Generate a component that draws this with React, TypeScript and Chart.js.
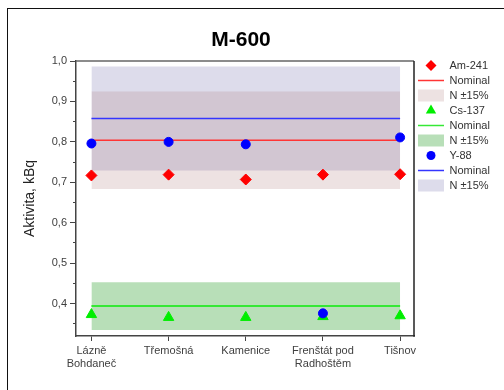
import React, { useEffect, useRef } from 'react';
import { Chart, registerables } from 'chart.js';

Chart.register(...registerables);

// ---- data ----
const categories: string[][] = [
  ['Lázně', 'Bohdaneč'],
  ['Třemošná'],
  ['Kamenice'],
  ['Frenštát pod', 'Radhoštěm'],
  ['Tišnov'],
];
const categoryPositions = [0, 1, 2, 3, 4];

const am241Values = [0.717, 0.719, 0.707, 0.719, 0.72];
const cs137Values = [0.373, 0.366, 0.366, 0.368, 0.37];
const y88Values = [0.796, 0.8, 0.794, 0.376, 0.811];

const am241Nominal = 0.804;
const cs137Nominal = 0.394;
const y88Nominal = 0.858;
const bandFraction = 0.15;

const yMajorTicks = [0.4, 0.5, 0.6, 0.7, 0.8, 0.9, 1.0];
const yTickLabels = ['0,4', '0,5', '0,6', '0,7', '0,8', '0,9', '1,0'];
const yMinorTicks = [0.35, 0.45, 0.55, 0.65, 0.75, 0.85, 0.95];

const legendLabels = [
  'Am-241', 'Nominal', 'N ±15%',
  'Cs-137', 'Nominal', 'N ±15%',
  'Y-88', 'Nominal', 'N ±15%',
];

const chartTitle = 'M-600';
const yAxisTitle = 'Aktivita, kBq';

// ---- styles ----
const FONT = 'Arial, "Liberation Sans", sans-serif';
const RED = '#ff0000';
const GREEN = '#00ee00';
const BLUE = '#0000ff';
const RED_LINE = '#ff3535';
const GREEN_LINE = '#35e835';
const BLUE_LINE = '#3535ff';
const AM_BAND = 'rgba(175,125,125,0.22)';
const CS_BAND = 'rgba(20,150,20,0.3)';
const Y_BAND = 'rgba(120,115,175,0.25)';

const points = (vals: number[]) => categoryPositions.map((x, i) => ({ x, y: vals[i] }));
const hLine = (v: number) => [
  { x: categoryPositions[0], y: v },
  { x: categoryPositions[categoryPositions.length - 1], y: v },
];
const near = (a: number, b: number) => Math.abs(a - b) < 1e-6;

function makeIcon(draw: (c: CanvasRenderingContext2D) => void): HTMLCanvasElement {
  const cv = document.createElement('canvas');
  cv.width = 26;
  cv.height = 13;
  const c = cv.getContext('2d')!;
  draw(c);
  return cv;
}

function makeIcons(): HTMLCanvasElement[] {
  const cx = 13, cy = 6.5;
  const diamond = makeIcon((c) => {
    const r = 5.5;
    c.fillStyle = RED;
    c.beginPath();
    c.moveTo(cx, cy - r); c.lineTo(cx + r, cy); c.lineTo(cx, cy + r); c.lineTo(cx - r, cy);
    c.closePath(); c.fill();
  });
  const triangle = makeIcon((c) => {
    const r = 6;
    c.fillStyle = GREEN;
    c.beginPath();
    c.moveTo(cx, cy - r);
    c.lineTo(cx + r * Math.sin(Math.PI / 3), cy + r / 2);
    c.lineTo(cx - r * Math.sin(Math.PI / 3), cy + r / 2);
    c.closePath(); c.fill();
  });
  const circle = makeIcon((c) => {
    c.fillStyle = BLUE;
    c.beginPath(); c.arc(cx, cy, 4.5, 0, Math.PI * 2); c.fill();
  });
  const line = (color: string, w: number) => makeIcon((c) => {
    c.strokeStyle = color; c.lineWidth = w;
    c.beginPath(); c.moveTo(0, cy); c.lineTo(26, cy); c.stroke();
  });
  const box = (color: string) => makeIcon((c) => {
    c.fillStyle = color; c.fillRect(0, 0.5, 26, 12);
  });
  return [
    diamond, line(RED_LINE, 1.5), box(AM_BAND),
    triangle, line(GREEN_LINE, 1.5), box(CS_BAND),
    circle, line(BLUE_LINE, 1.5), box(Y_BAND),
  ];
}

const framePlugin = {
  id: 'plotFrame',
  afterDraw(chart: any) {
    const { ctx, chartArea } = chart;
    const { left, top, right, bottom } = chartArea;
    ctx.save();
    ctx.lineWidth = 1.5;
    ctx.strokeStyle = '#666';
    ctx.beginPath(); ctx.moveTo(left, top); ctx.lineTo(right, top); ctx.stroke();
    ctx.strokeStyle = '#222';
    ctx.beginPath(); ctx.moveTo(right, top); ctx.lineTo(right, bottom + 0.75); ctx.stroke();
    ctx.restore();
  },
};

export default function App() {
  const ref = useRef<HTMLCanvasElement>(null);

  useEffect(() => {
    const canvas = ref.current;
    if (!canvas) return;
    const icons = makeIcons();

    const markerDs = (label: string, vals: number[], color: string, style: string, radius: number) => ({
      label,
      data: points(vals),
      showLine: false,
      pointStyle: style,
      pointRadius: radius,
      pointHoverRadius: radius,
      pointBackgroundColor: color,
      pointBorderColor: color,
      pointBorderWidth: 1,
      backgroundColor: color,
      borderColor: color,
      fill: false,
    });
    const lineDs = (label: string, v: number, color: string, width: number) => ({
      label,
      data: hLine(v),
      showLine: true,
      borderColor: color,
      borderWidth: width,
      pointRadius: 0,
      pointHoverRadius: 0,
      fill: false,
    });
    const bandHi = (label: string, v: number, color: string) => ({
      label,
      data: hLine(v * (1 + bandFraction)),
      showLine: true,
      borderColor: 'transparent',
      borderWidth: 1,
      backgroundColor: color,
      pointRadius: 0,
      pointHoverRadius: 0,
      fill: '+1',
    });
    const bandLo = (label: string, v: number) => ({
      label,
      data: hLine(v * (1 - bandFraction)),
      showLine: true,
      borderColor: 'transparent',
      borderWidth: 1,
      pointRadius: 0,
      pointHoverRadius: 0,
      fill: false,
    });

    const chart = new Chart(canvas, {
      type: 'line',
      data: {
        datasets: [
          markerDs('Y-88', y88Values, BLUE, 'circle', 4.5),
          markerDs('Am-241', am241Values, RED, 'rectRot', 5.5),
          markerDs('Cs-137', cs137Values, GREEN, 'triangle', 6),
          lineDs('Am-241 Nominal', am241Nominal, RED_LINE, 1.5),
          lineDs('Cs-137 Nominal', cs137Nominal, GREEN_LINE, 2),
          lineDs('Y-88 Nominal', y88Nominal, BLUE_LINE, 1.5),
          bandHi('Am-241 N +15%', am241Nominal, AM_BAND),
          bandLo('Am-241 N -15%', am241Nominal),
          bandHi('Cs-137 N +15%', cs137Nominal, CS_BAND),
          bandLo('Cs-137 N -15%', cs137Nominal),
          bandHi('Y-88 N +15%', y88Nominal, Y_BAND),
          bandLo('Y-88 N -15%', y88Nominal),
        ] as any,
      },
      options: {
        responsive: false,
        maintainAspectRatio: false,
        animation: false,
        devicePixelRatio: 1,
        events: [],
        layout: { padding: { left: -10, right: 12, top: 28, bottom: 0 } },
        plugins: {
          title: {
            display: true,
            text: chartTitle,
            color: '#000',
            font: { family: FONT, size: 21, weight: 'bold', lineHeight: 1.2 },
            padding: { top: 0, bottom: 7.8 },
          },
          legend: {
            display: true,
            position: 'right',
            align: 'start',
            maxWidth: 78,
            title: {
              display: true,
              text: '',
              font: { family: FONT, size: 10, lineHeight: 1 },
              padding: { top: 0, bottom: 18 },
            },
            labels: {
              usePointStyle: true,
              pointStyleWidth: 26,
              boxHeight: 11,
              padding: 4,
              color: '#333',
              font: { family: FONT, size: 11 },
              generateLabels: () =>
                legendLabels.map((text, i) => ({
                  text,
                  pointStyle: icons[i],
                  fillStyle: 'transparent',
                  strokeStyle: 'transparent',
                  lineWidth: 0,
                  hidden: false,
                  fontColor: '#333',
                  datasetIndex: 0,
                })) as any,
            },
          },
          tooltip: { enabled: false },
        },
        scales: {
          x: {
            type: 'linear',
            min: -0.2,
            max: 4.18,
            afterBuildTicks: (scale: any) => {
              scale.ticks = categoryPositions.map((value) => ({ value }));
            },
            afterFit: (scale: any) => {
              scale.height = 54;
            },
            border: { display: true, color: '#444', width: 1.5 },
            grid: {
              display: true,
              drawOnChartArea: false,
              drawTicks: true,
              tickLength: 5,
              tickColor: '#444',
              tickWidth: 1,
            },
            ticks: {
              autoSkip: false,
              maxRotation: 0,
              minRotation: 0,
              padding: 3,
              color: '#404040',
              font: { family: FONT, size: 11, lineHeight: 1.2 },
              callback: (value: any) => {
                const i = categoryPositions.findIndex((p) => near(p, Number(value)));
                return i >= 0 ? categories[i] : '';
              },
            },
          },
          y: {
            type: 'linear',
            min: 0.32,
            max: 1.0,
            afterBuildTicks: (scale: any) => {
              scale.ticks = [...yMinorTicks, ...yMajorTicks]
                .sort((a, b) => a - b)
                .map((value) => ({ value }));
            },
            afterFit: (scale: any) => {
              scale.width = 86;
            },
            border: { display: true, color: '#444', width: 1.5 },
            grid: {
              display: true,
              drawOnChartArea: false,
              drawTicks: true,
              tickLength: 6,
              tickColor: '#444',
              tickWidth: 1,
              tickBorderDash: (ctx: any) =>
                ctx.tick && yMinorTicks.some((m) => near(m, ctx.tick.value)) ? [3, 3] : [],
              tickBorderDashOffset: (ctx: any) =>
                ctx.tick && yMinorTicks.some((m) => near(m, ctx.tick.value)) ? 3 : 0,
            } as any,
            ticks: {
              autoSkip: false,
              padding: 3,
              color: '#404040',
              font: { family: FONT, size: 11 },
              callback: (value: any) => {
                const i = yMajorTicks.findIndex((m) => near(m, Number(value)));
                return i >= 0 ? yTickLabels[i] : '';
              },
            },
            title: {
              display: true,
              text: yAxisTitle,
              color: '#222',
              font: { family: FONT, size: 14 },
              padding: { top: 32, bottom: 4 },
            },
          },
        },
      } as any,
      plugins: [framePlugin],
    });

    return () => chart.destroy();
  }, []);

  return (
    <div
      style={{
        position: 'fixed',
        left: 0,
        top: 0,
        width: 504,
        height: 390,
        overflow: 'hidden',
        background: '#fff',
      }}
    >
      <div
        style={{
          position: 'absolute',
          left: 7,
          top: 8,
          width: 600,
          height: 500,
          borderLeft: '1px solid #111',
          borderTop: '1px solid #111',
        }}
      />
      <canvas
        ref={ref}
        width={504}
        height={390}
        style={{ position: 'absolute', left: 0, top: 0, width: 504, height: 390 }}
      />
    </div>
  );
}
